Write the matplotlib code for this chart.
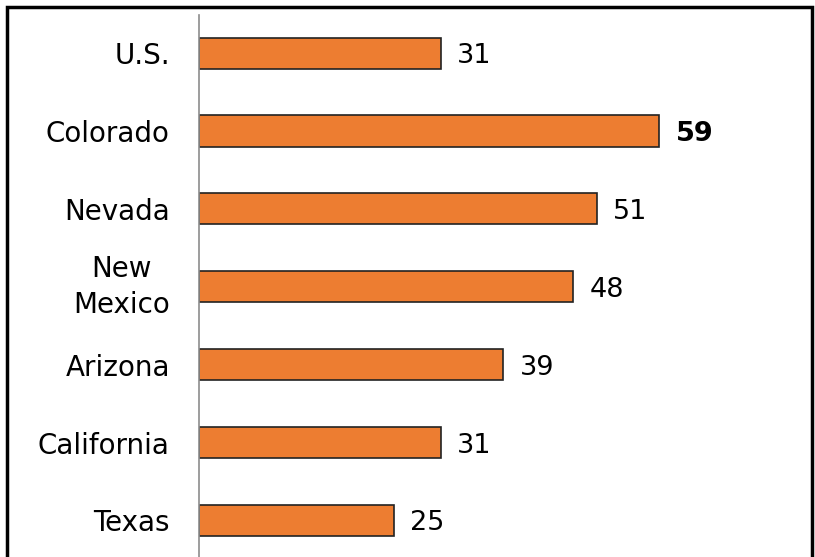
import matplotlib.pyplot as plt
from matplotlib.patches import Rectangle

states = ["U.S.", "Colorado", "Nevada", "New\nMexico", "Arizona", "California", "Texas"]
values = [31, 59, 51, 48, 39, 31, 25]
highlight = "Colorado"

W, H = 815, 557
fig = plt.figure(figsize=(W / 100, H / 100), dpi=100)
plt.rcParams['font.family'] = ['DejaVu Sans']

# axes placed in pixel units
left, right, top, bottom = 199, 800, 15, 557
ax = fig.add_axes([left / W, 1 - bottom / H, (right - left) / W, (bottom - top) / H])

y = list(range(len(states)))
ax.barh(y, values, height=0.4, color="#ED7D31", edgecolor="#222222", linewidth=1.2)
ax.set_xlim(0, (right - left) / 7.8)
ax.set_ylim(6.47, -0.49)

for i, v in enumerate(values):
    bold = states[i] == highlight
    ax.text(v + 2.1, i, str(v), va="center_baseline", ha="left", fontsize=19.5,
            fontweight="bold" if bold else "normal", color="black")

ax.set_yticks(y)
ax.set_yticklabels(states, fontsize=20, linespacing=1.35)
for lbl in ax.get_yticklabels():
    lbl.set_multialignment("center")
    if "\n" in lbl.get_text():
        lbl.set_verticalalignment("center")
    else:
        lbl.set_verticalalignment("center_baseline")
ax.tick_params(axis="y", length=0, pad=21)
ax.set_xticks([])
for s in ["top", "right", "bottom"]:
    ax.spines[s].set_visible(False)
ax.spines["left"].set_color("#8c8c8c")
ax.spines["left"].set_linewidth(1.2)

# outer frame around the figure (bottom cut off)
fig.patches.append(Rectangle((7 / W, -0.05), (812 - 7) / W, (H - 7) / H + 0.05,
                             transform=fig.transFigure, fill=False,
                             edgecolor="black", linewidth=2.5))

fig.savefig("out.png", dpi=100)
